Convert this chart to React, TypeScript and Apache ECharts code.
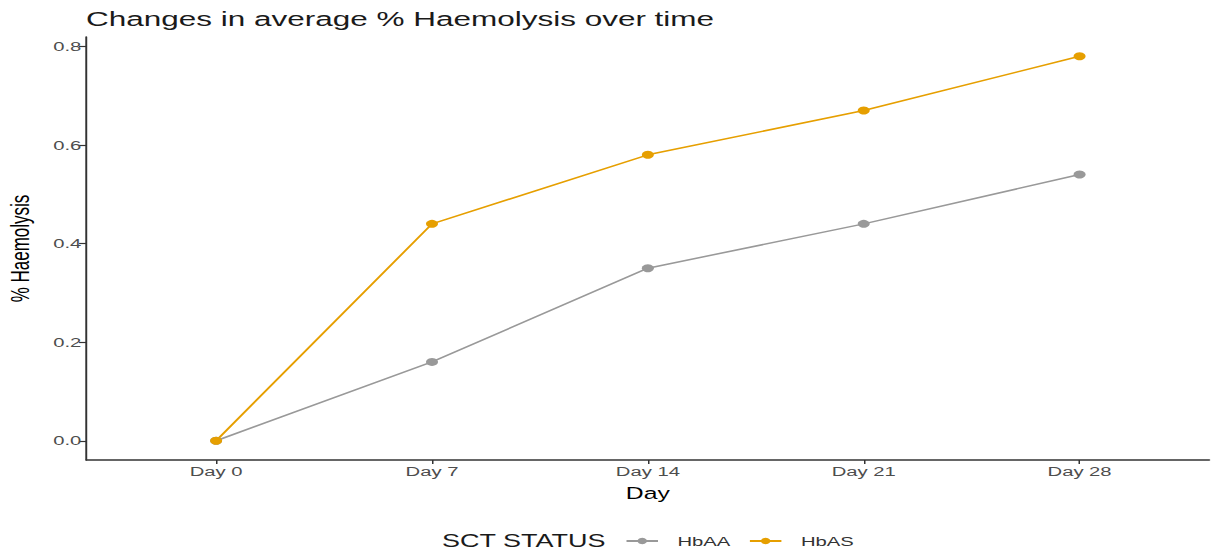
import React, { useEffect, useRef } from "react";
import * as echarts from "echarts";

const days = ["Day 0", "Day 7", "Day 14", "Day 21", "Day 28"];
const hbAA = [0.0, 0.16, 0.35, 0.44, 0.54];
const hbAS = [0.0, 0.44, 0.58, 0.67, 0.78];
const yTicks = [0, 0.2, 0.4, 0.6, 0.8];
const xTicks = [0, 1, 2, 3, 4];

const FONT = "Liberation Sans, Arial, Helvetica, sans-serif";
// the reference picture is stretched horizontally; render narrower and stretch
const SX = 1.5;
const W = 1214 / SX;
const H = 556;

export default function App() {
  const ref = useRef<HTMLDivElement>(null);
  useEffect(() => {
    document.body.style.margin = "0";
    const chart = echarts.init(ref.current!, null, { renderer: "svg" });
    chart.setOption({
      animation: false,
      backgroundColor: "#ffffff",
      textStyle: { fontFamily: FONT },
      title: [
        {
          text: "Changes in average % Haemolysis over time",
          left: 86 / SX,
          top: 8,
          padding: 0,
          textStyle: { fontSize: 21, fontWeight: "normal", color: "#1a1a1a", fontFamily: FONT },
        },
        {
          text: "SCT STATUS",
          left: 442 / SX,
          top: 532,
          padding: 0,
          textStyle: { fontSize: 18, fontWeight: "normal", color: "#1a1a1a", fontFamily: FONT },
        },
      ],
      legend: {
        left: 625 / SX,
        top: 534,
        padding: 0,
        itemWidth: 21,
        itemHeight: 8,
        itemGap: 12,
        textStyle: { fontSize: 13.5, color: "#333333", fontFamily: FONT, padding: [0, 0, 0, 8] },
        data: ["HbAA", "HbAS"],
      },
      grid: {
        left: 86.6 / SX,
        right: 4.4 / SX,
        top: 37,
        bottom: 96,
        containLabel: false,
        outerBoundsMode: "none",
      },
      xAxis: {
        type: "value",
        min: -0.6,
        max: 4.6,
        name: "Day",
        nameLocation: "middle",
        nameGap: 25,
        nameTextStyle: { fontSize: 16.5, color: "#000000", fontFamily: FONT },
        splitLine: { show: false },
        axisLine: { show: true, onZero: false, lineStyle: { color: "#333333", width: 1.6 } },
        axisTick: { show: true, length: 4, lineStyle: { color: "#333333", width: 1 }, customValues: xTicks },
        axisLabel: {
          customValues: xTicks,
          formatter: (v: number) => days[Math.round(v)] ?? "",
          fontSize: 13.5,
          color: "#4d4d4d",
          margin: 4,
          fontFamily: FONT,
        },
      },
      yAxis: {
        type: "value",
        min: -0.039,
        max: 0.819,
        name: "% Haemolysis",
        nameLocation: "middle",
        nameGap: 36,
        nameTextStyle: { fontSize: 17, color: "#000000", fontFamily: FONT },
        splitLine: { show: false },
        axisLine: { show: true, onZero: false, lineStyle: { color: "#333333", width: 1.3 } },
        axisTick: { show: true, length: 5, lineStyle: { color: "#333333", width: 1.2 }, customValues: yTicks },
        axisLabel: {
          customValues: yTicks,
          formatter: (v: number) => v.toFixed(1),
          fontSize: 13.5,
          color: "#4d4d4d",
          margin: 3.5,
          fontFamily: FONT,
        },
      },
      series: [
        {
          name: "HbAA",
          type: "line",
          data: hbAA.map((v, i) => [i, v]),
          symbol: "circle",
          symbolSize: 8,
          itemStyle: { color: "#999999" },
          lineStyle: { color: "#999999", width: 1.5 },
        },
        {
          name: "HbAS",
          type: "line",
          data: hbAS.map((v, i) => [i, v]),
          symbol: "circle",
          symbolSize: 8,
          itemStyle: { color: "#E69F00" },
          lineStyle: { color: "#E69F00", width: 1.5 },
        },
      ],
    });
    return () => chart.dispose();
  }, []);
  return (
    <div style={{ width: 1214, height: H, overflow: "hidden", background: "#fff" }}>
      <div
        ref={ref}
        style={{ width: W, height: H, transform: `scaleX(${SX})`, transformOrigin: "0 0" }}
      />
    </div>
  );
}
